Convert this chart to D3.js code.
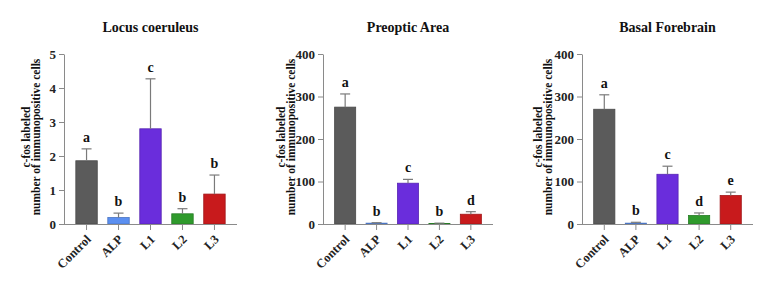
<!DOCTYPE html>
<html>
<head>
<meta charset="utf-8">
<script src="https://cdn.jsdelivr.net/npm/d3@7"></script>
<style>
  body { margin: 0; background: #fff; }
  svg { display: block; font-family: "Liberation Serif", "Times New Roman", serif; font-weight: bold; }
  .axis path, .axis line { stroke: #8a8a8a; }
  .axis text { fill: #222; font-family: "Liberation Serif", serif; font-weight: bold; }
  .yaxis text { font-size: 13px; }
  .xaxis text { font-size: 12.5px; }
</style>
</head>
<body>
<svg id="chart" width="768" height="289"></svg>
<script>
let groups = ['Control', 'ALP', 'L1', 'L2', 'L3'];
let colors = ['#5b5b5b', '#5b8ff0', '#6a2ddc', '#2f9a2c', '#c81a1c'];
let titles = ['Locus coeruleus', 'Preoptic Area', 'Basal Forebrain'];

let lcMean = [1.86, 0.19, 2.8, 0.3, 0.88];
let lcErr = [0.35, 0.13, 1.47, 0.15, 0.56];
let lcLetters = ['a', 'b', 'c', 'b', 'b'];

let poaMean = [275, 2, 96, 1, 23];
let poaErr = [31, 1, 9, 1, 6];
let poaLetters = ['a', 'b', 'c', 'b', 'd'];

let bfMean = [270, 2, 117, 20, 67];
let bfErr = [34, 2, 19, 6, 8];
let bfLetters = ['a', 'b', 'c', 'd', 'e'];

let yMax = [5, 400, 400];
let yTicks = [[0, 1, 2, 3, 4, 5], [0, 100, 200, 300, 400], [0, 100, 200, 300, 400]];

// panel placement: axis left/right edges and distance of y-label from axis
let panels = [
  {mean: lcMean, err: lcErr, letters: lcLetters, left: 64, right: 237, labelOff: 34},
  {mean: poaMean, err: poaErr, letters: poaLetters, left: 323, right: 493, labelOff: 38},
  {mean: bfMean, err: bfErr, letters: bfLetters, left: 582, right: 753, labelOff: 40}
];

let svg = d3.select('#chart');
let yTop = 54, yBottom = 224;

panels.forEach(function(p, k){
  let g = svg.append('g');

  let sx = d3.scaleBand()
  .domain(groups)
  .range([p.left, p.right])
  .paddingInner(0.33)
  .paddingOuter(0.37);

  let sy = d3.scaleLinear()
  .domain([0, yMax[k]])
  .range([yBottom, yTop]);

  let rows = groups.map((name, i) => ({name: name, mean: p.mean[i], err: p.err[i], letter: p.letters[i], color: colors[i]}));

  // bars
  g.selectAll('.bar')
  .data(rows)
  .enter()
  .append('rect')
  .attr('class', 'bar')
  .attr('x', d => sx(d.name))
  .attr('y', d => sy(d.mean))
  .attr('width', sx.bandwidth())
  .attr('height', d => yBottom - sy(d.mean))
  .attr('fill', d => d.color)
  .attr('stroke', d => d3.color(d.color).darker(0.6))
  .attr('stroke-width', 0.8);

  // error bars, upper half only
  let cx = d => sx(d.name) + sx.bandwidth()/2;
  g.selectAll('.err')
  .data(rows)
  .enter()
  .append('line')
  .attr('class', 'err')
  .attr('x1', cx).attr('x2', cx)
  .attr('y1', d => sy(d.mean))
  .attr('y2', d => sy(d.mean + d.err))
  .attr('stroke', '#7a7a7a')
  .attr('stroke-width', 1.2);

  g.selectAll('.cap')
  .data(rows)
  .enter()
  .append('line')
  .attr('class', 'cap')
  .attr('x1', d => cx(d) - 5).attr('x2', d => cx(d) + 5)
  .attr('y1', d => sy(d.mean + d.err))
  .attr('y2', d => sy(d.mean + d.err))
  .attr('stroke', '#7a7a7a')
  .attr('stroke-width', 1.2);

  // significance letters
  g.selectAll('.letter')
  .data(rows)
  .enter()
  .append('text')
  .attr('class', 'letter')
  .attr('x', cx)
  .attr('y', d => sy(d.mean + d.err) - 7)
  .attr('text-anchor', 'middle')
  .attr('font-size', 14)
  .attr('fill', '#111')
  .text(d => d.letter);

  // axes
  g.append('g')
  .attr('class', 'axis yaxis')
  .attr('transform', `translate(${p.left},0)`)
  .call(d3.axisLeft(sy).tickValues(yTicks[k]).tickFormat(d3.format('d')).tickSize(5).tickPadding(3).tickSizeOuter(0));

  let xa = g.append('g')
  .attr('class', 'axis xaxis')
  .attr('transform', `translate(0,${yBottom})`)
  .call(d3.axisBottom(sx).tickSize(6).tickSizeOuter(0));
  xa.select('.domain').attr('d', `M${p.left},0.5H${p.right}`);
  xa.selectAll('text')
  .attr('text-anchor', 'end')
  .attr('dy', '0.35em')
  .attr('transform', 'translate(2,13) rotate(-45)')
  .attr('y', 0).attr('x', 0);

  // title
  svg.append('text')
  .attr('x', (p.left + p.right)/2)
  .attr('y', 32)
  .attr('text-anchor', 'middle')
  .attr('font-size', 14)
  .attr('fill', '#111')
  .text(titles[k]);

  // y label, two lines
  let lx = p.left - p.labelOff, ly = (yTop + yBottom)/2 - 2;
  let yl = svg.append('text')
  .attr('transform', `translate(${lx},${ly}) rotate(-90)`)
  .attr('text-anchor', 'middle')
  .attr('font-size', 11.5)
  .attr('fill', '#111');
  yl.append('tspan').attr('x', 0).attr('y', 0).text('c-fos labeled');
  yl.append('tspan').attr('x', 0).attr('y', 10).text('number of immunopositive cells');
});
</script>
</body>
</html>
